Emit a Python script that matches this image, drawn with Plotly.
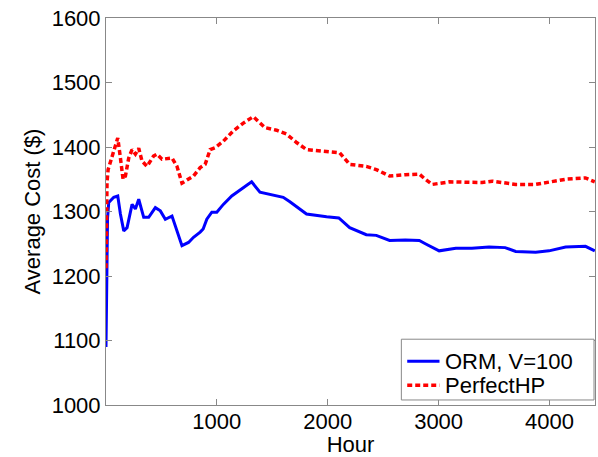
import plotly.graph_objects as go

# Hour index and running average cost for each policy
orm_hours = [1, 5, 15, 26, 71, 107, 131, 161, 191, 236, 266, 296, 341, 386, 446, 491,
             536, 596, 641, 686, 745, 790, 850, 877, 910, 955, 1000, 1059, 1135, 1224,
             1314, 1389, 1479, 1599, 1659, 1733, 1809, 1990, 2100, 2198, 2348, 2438,
             2558, 2700, 2826, 2880, 3005, 3155, 3300, 3455, 3600, 3695, 3875, 3995,
             4145, 4324, 4408]
orm_cost = [1090, 1200, 1290, 1314, 1322, 1324, 1296, 1270, 1275, 1311, 1304, 1319,
            1291, 1291, 1306, 1301, 1288, 1293, 1270, 1247, 1252, 1260, 1268, 1273,
            1288, 1299, 1299, 1311, 1324, 1335, 1346, 1330, 1327, 1322, 1315, 1306,
            1296, 1292, 1290, 1275, 1264, 1263, 1255, 1256, 1255, 1250, 1239, 1243,
            1243, 1245, 1244, 1238, 1237, 1239, 1245, 1246, 1239]

php_hours = [1, 5, 10, 20, 41, 71, 107, 131, 155, 176, 206, 236, 266, 296, 326, 371,
             430, 461, 506, 596, 641, 686, 745, 790, 850, 895, 940, 985, 1059, 1149,
             1239, 1329, 1435, 1539, 1629, 1719, 1809, 1955, 2108, 2198, 2348, 2438,
             2558, 2700, 2826, 2880, 2943, 3096, 3393, 3482, 3695, 3875, 3995, 4145,
             4324, 4408]
php_cost = [1212, 1300, 1345, 1365, 1378, 1396, 1414, 1383, 1350, 1355, 1383, 1396,
            1389, 1398, 1378, 1370, 1386, 1389, 1381, 1383, 1370, 1344, 1350, 1355,
            1368, 1373, 1396, 1399, 1409, 1425, 1437, 1447, 1430, 1426, 1420, 1407,
            1396, 1394, 1391, 1373, 1370, 1365, 1355, 1357, 1358, 1350, 1342, 1346,
            1345, 1347, 1342, 1342, 1346, 1350, 1352, 1346]

x_ticks = [1000, 2000, 3000, 4000]
y_ticks = [1000, 1100, 1200, 1300, 1400, 1500, 1600]

series_names = ["ORM, V=100", "PerfectHP"]
series_colors = ["#0000ff", "#ff0000"]
series_dash = ["solid", "5px,3px"]
series_width = [3, 3.5]

FONT = "Liberation Sans, Arial, sans-serif"

fig = go.Figure()
for hrs, cost, name, col, dash, w in zip([orm_hours, php_hours], [orm_cost, php_cost],
                                         series_names, series_colors, series_dash,
                                         series_width):
    fig.add_trace(go.Scatter(x=hrs, y=cost, mode="lines", name=name,
                             line=dict(color=col, width=w, dash=dash)))

axis_common = dict(showline=True, linecolor="#888888", linewidth=1, mirror="ticks",
                   ticks="inside", ticklen=6, tickcolor="#888888", showgrid=False,
                   zeroline=False, tickfont=dict(family=FONT, size=22, color="black"))

# Boxed legend in the lower-right corner of the axes
shapes = [dict(type="rect", xref="paper", yref="paper", x0=0.604, x1=0.998,
               y0=0.013, y1=0.170, line=dict(color="#888888", width=1),
               fillcolor="white", layer="above")]
annotations = []
for row_y, name, col, dash, w in zip([0.113, 0.051], series_names, series_colors,
                                     series_dash, series_width):
    shapes.append(dict(type="line", xref="paper", yref="paper", x0=0.616, x1=0.682,
                       y0=row_y, y1=row_y, layer="above",
                       line=dict(color=col, width=w, dash=dash)))
    annotations.append(dict(xref="paper", yref="paper", x=0.690, y=row_y,
                            xanchor="left", yanchor="middle", text=name,
                            showarrow=False, font=dict(family=FONT, size=22,
                                                       color="black")))

fig.update_layout(
    width=598, height=457,
    margin=dict(l=106, r=2, t=18, b=50),
    paper_bgcolor="white", plot_bgcolor="white",
    font=dict(family=FONT, size=22, color="black"),
    xaxis=dict(range=[1, 4410], tickvals=x_ticks, ticklabelstandoff=-3,
               title=dict(text="Hour", standoff=5, font=dict(size=22)), **axis_common),
    yaxis=dict(range=[1000, 1600], tickvals=y_ticks,
               title=dict(text="Average Cost ($)", standoff=4, font=dict(size=22)),
               **axis_common),
    shapes=shapes,
    annotations=annotations,
    showlegend=False,
)

fig.write_html("out.html")
